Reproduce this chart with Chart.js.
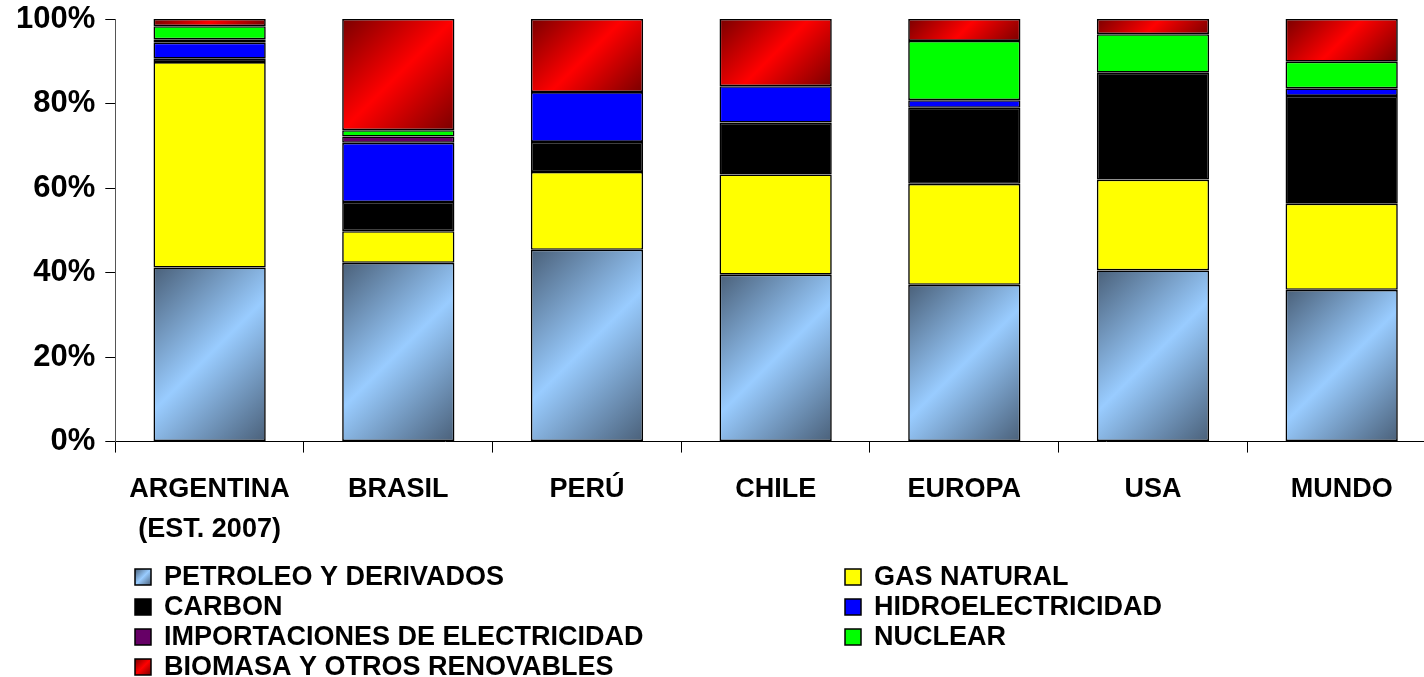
<!DOCTYPE html>
<html>
<head>
<meta charset="utf-8">
<script src="https://cdn.jsdelivr.net/npm/chart.js@4/dist/chart.umd.min.js"></script>
<style>
  html, body { margin: 0; padding: 0; background: #fff; overflow: hidden; }
  #wrap { width: 1436px; height: 677px; position: relative; }
</style>
</head>
<body>
<div id="wrap"><canvas id="energia"></canvas></div>
<script>
// categories and series (% of primary energy supply)
const categories = [['ARGENTINA', '(EST. 2007)'], 'BRASIL', 'PERÚ', 'CHILE', 'EUROPA', 'USA', 'MUNDO'];
const petroleo = [41.2, 42.3, 45.4, 39.5, 37.1, 40.5, 35.9];
const gasNatural = [48.6, 7.5, 18.4, 23.7, 23.9, 21.5, 20.4];
const carbon = [0.8, 6.9, 7.1, 12.3, 18.0, 25.3, 25.5];
const hidro = [3.8, 14.0, 11.8, 8.6, 1.8, 0, 1.8];
const importaciones = [0.8, 1.5, 0, 0, 0, 0, 0];
const nuclear = [3.1, 1.5, 0, 0, 14.0, 9.1, 6.3];
const biomasa = [1.7, 26.3, 17.3, 15.9, 5.2, 3.6, 10.1];
const yTicks = [0, 20, 40, 60, 80, 100];

const FONT = "'Liberation Sans', Arial, sans-serif";
const BAR_PCT = 0.595;

// solid colour, or [dark, light] pair for the diagonal gradient fills
const series = [
    { label: 'PETROLEO Y DERIVADOS', data: petroleo, fill: ['#4a6079', '#99ccff'] },
    { label: 'GAS NATURAL', data: gasNatural, fill: '#ffff00' },
    { label: 'CARBON', data: carbon, fill: '#000000' },
    { label: 'HIDROELECTRICIDAD', data: hidro, fill: '#0000ff' },
    { label: 'IMPORTACIONES DE ELECTRICIDAD', data: importaciones, fill: '#660066' },
    { label: 'NUCLEAR', data: nuclear, fill: '#00ff00' },
    { label: 'BIOMASA Y OTROS RENOVABLES', data: biomasa, fill: ['#7a0000', '#ff0000'] }
];

function diagGradient(g, fill, x0, y0, w, h) {
    if (!Array.isArray(fill)) return fill;
    const cx = x0 + w / 2, cy = y0 + h / 2, d = (w + h) / 4;
    const grad = g.createLinearGradient(cx - d, cy - d, cx + d, cy + d);
    grad.addColorStop(0, fill[0]);
    grad.addColorStop(0.5, fill[1]);
    grad.addColorStop(1, fill[0]);
    return grad;
}

function segmentFill(c) {
    const fill = series[c.datasetIndex].fill;
    if (!Array.isArray(fill)) return fill;
    const chart = c.chart;
    const xs = chart.scales.x, ys = chart.scales.y;
    if (!xs || !ys || !chart.chartArea) return fill[1];
    let cum = 0;
    for (let i = 0; i < c.datasetIndex; i++) cum += series[i].data[c.dataIndex] || 0;
    const v = series[c.datasetIndex].data[c.dataIndex] || 0;
    const w = (xs.getPixelForValue(1) - xs.getPixelForValue(0)) * BAR_PCT;
    const x0 = xs.getPixelForValue(c.dataIndex) - w / 2;
    const top = ys.getPixelForValue(cum + v);
    const bot = ys.getPixelForValue(cum);
    return diagGradient(chart.ctx, fill, x0, top, w, bot - top);
}

// two-column legend under the axis labels
const legendPlugin = {
    id: 'twoColLegend',
    afterDraw(chart) {
        const g = chart.ctx;
        const cols = [135, 845];
        const rowY = [577, 607, 637, 667];
        const box = 16;
        g.save();
        g.font = 'bold 27px ' + FONT;
        g.textBaseline = 'middle';
        series.forEach(function (s, i) {
            const x = cols[i % 2], y = rowY[Math.floor(i / 2)];
            g.fillStyle = diagGradient(g, s.fill, x, y - box / 2, box, box);
            g.fillRect(x, y - box / 2, box, box);
            g.lineWidth = 1.5;
            g.strokeStyle = '#000';
            g.strokeRect(x, y - box / 2, box, box);
            g.fillStyle = '#000';
            g.fillText(s.label, x + 29, y + 1);
        });
        g.restore();
    }
};

new Chart(document.getElementById('energia'), {
    type: 'bar',
    data: {
        labels: categories,
        datasets: series.map(function (s) {
            return {
                label: s.label,
                data: s.data,
                backgroundColor: segmentFill,
                borderColor: '#000',
                borderWidth: 1.6,
                borderSkipped: false,
                categoryPercentage: 1,
                barPercentage: BAR_PCT
            };
        })
    },
    options: {
        responsive: true,
        maintainAspectRatio: false,
        animation: false,
        layout: { padding: { top: 19, right: 0, bottom: 110.5, left: 6 } },
        plugins: {
            legend: { display: false },
            tooltip: { enabled: false }
        },
        scales: {
            x: {
                stacked: true,
                grid: { display: true, drawOnChartArea: false, drawTicks: true, tickLength: 11, color: '#000', lineWidth: 1 },
                border: { display: true, color: '#000', width: 1 },
                ticks: {
                    color: '#000',
                    padding: 17,
                    maxRotation: 0,
                    autoSkip: false,
                    font: { family: FONT, size: 27, weight: 'bold', lineHeight: 1.48 }
                }
            },
            y: {
                stacked: true,
                min: yTicks[0],
                max: yTicks[yTicks.length - 1],
                afterBuildTicks: function (axis) {
                    axis.ticks = yTicks.map(function (v) { return { value: v }; });
                },
                afterFit: function (axis) {
                    axis.paddingTop = 0;
                },
                grid: { display: true, drawOnChartArea: false, drawTicks: true, tickLength: 10, color: '#000', lineWidth: 1 },
                border: { display: true, color: '#555', width: 1 },
                ticks: {
                    color: '#000',
                    padding: 10,
                    font: { family: FONT, size: 31, weight: 'bold', lineHeight: 1 },
                    callback: function (v) { return v + '%'; }
                }
            }
        }
    },
    plugins: [legendPlugin]
});
</script>
</body>
</html>
